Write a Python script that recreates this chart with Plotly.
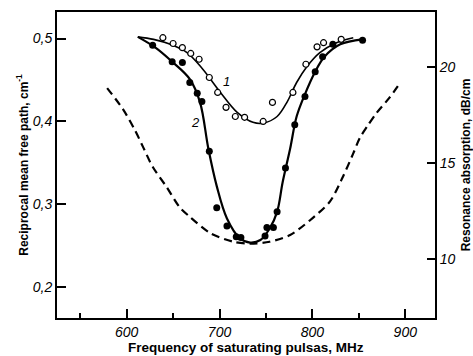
import plotly.graph_objects as go

# Curve 1 (open circles) – measured points
c1_pts_f = [639, 650, 660, 669, 678, 689, 698, 707, 717, 727, 747, 757, 779, 793, 805, 812, 831]
c1_pts_v = [0.501, 0.494, 0.489, 0.482, 0.475, 0.453, 0.435, 0.417, 0.406, 0.405, 0.400, 0.423, 0.435, 0.469, 0.490, 0.495, 0.499]
# Curve 1 fitted line
c1_line_f = [612, 629, 647, 665, 682, 701, 719, 736, 747, 762, 773, 783, 794, 808, 826, 844]
c1_line_v = [0.502, 0.499, 0.493, 0.483, 0.463, 0.435, 0.411, 0.399, 0.398, 0.406, 0.424, 0.447, 0.466, 0.483, 0.495, 0.501]

# Curve 2 (filled circles) – measured points
c2_pts_f = [628, 649, 660, 668, 676, 681, 689, 697, 708, 718, 723, 749, 751, 758, 762, 771, 781, 792, 803, 811, 822, 854]
c2_pts_v = [0.492, 0.472, 0.471, 0.447, 0.434, 0.424, 0.364, 0.296, 0.274, 0.261, 0.260, 0.262, 0.272, 0.272, 0.291, 0.344, 0.396, 0.430, 0.460, 0.478, 0.493, 0.498]
# Curve 2 fitted line
c2_line_f = [612, 631, 649, 668, 679, 688, 697, 708, 722, 733, 744, 754, 762, 768, 776, 783, 792, 803, 813, 830, 854]
c2_line_v = [0.502, 0.489, 0.472, 0.451, 0.423, 0.367, 0.322, 0.283, 0.259, 0.254, 0.257, 0.271, 0.291, 0.327, 0.367, 0.406, 0.433, 0.460, 0.478, 0.493, 0.499]

# Dashed curve – resonance absorption (dB/cm)
abs_f = [579, 596, 609, 618, 628, 643, 657, 668, 690, 715, 733, 754, 776, 797, 819, 833, 844, 851, 859, 869, 883, 892]
abs_db = [18.9, 17.8, 16.7, 15.8, 14.8, 13.75, 12.7, 12.2, 11.35, 10.9, 10.8, 10.9, 11.25, 12.0, 13.0, 14.3, 15.5, 16.3, 16.9, 17.6, 18.4, 19.0]

x_ticks = [600, 700, 800, 900]
y_ticks = [0.2, 0.3, 0.4, 0.5]
y_ticktext = ["0,2", "0,3", "0,4", "0,5"]
y2_ticks = [10, 15, 20]

curve_labels = ["1", "2"]
label_f = [707, 674]
label_v = [0.448, 0.399]

x_title = "Frequency of saturating pulsas, MHz"

fig = go.Figure()
fig.add_trace(go.Scatter(x=abs_f, y=abs_db, mode="lines", yaxis="y2",
                         line=dict(color="black", width=2.2, dash="8px,5px", shape="spline", smoothing=0.8),
                         showlegend=False))
fig.add_trace(go.Scatter(x=c1_line_f, y=c1_line_v, mode="lines",
                         line=dict(color="black", width=1.6, shape="spline"), showlegend=False))
fig.add_trace(go.Scatter(x=c2_line_f, y=c2_line_v, mode="lines",
                         line=dict(color="black", width=2.2, shape="spline"), showlegend=False))
fig.add_trace(go.Scatter(x=c1_pts_f, y=c1_pts_v, mode="markers",
                         marker=dict(size=6, color="white", line=dict(color="black", width=1.2)),
                         showlegend=False))
fig.add_trace(go.Scatter(x=c2_pts_f, y=c2_pts_v, mode="markers",
                         marker=dict(size=7, color="black"), showlegend=False))

for t, f, v in zip(curve_labels, label_f, label_v):
    fig.add_annotation(x=f, y=v, text=t, showarrow=False,
                       font=dict(family="Liberation Sans", size=13, color="black", style="italic"))

fig.add_annotation(x=0.5, y=0, xref="paper", yref="paper", yshift=-29, yanchor="middle",
                   text=x_title, showarrow=False,
                   font=dict(family="Liberation Sans", size=13.5, color="black", weight="bold"))

tickfont = dict(family="Liberation Sans", size=14, color="black", style="italic")
fig.update_layout(
    width=473, height=356,
    margin=dict(l=57, r=38, t=12, b=38),
    paper_bgcolor="white", plot_bgcolor="white",
    xaxis=dict(range=[525, 932], tickvals=x_ticks, ticks="inside", ticklen=9, tickwidth=1.5,
               tickcolor="black", showline=True, linewidth=2, linecolor="black", mirror=True,
               showgrid=False, zeroline=False, tickfont=tickfont, automargin=False,
               minor=dict(dtick=50, tick0=550, ticks="inside", ticklen=5, tickwidth=1.5, tickcolor="black", showgrid=False)),
    yaxis=dict(range=[0.163, 0.532], tickvals=y_ticks, ticktext=y_ticktext, ticks="inside", ticklen=9,
               tickwidth=1.5, tickcolor="black", showline=True, linewidth=2, linecolor="black",
               showgrid=False, zeroline=False, tickfont=tickfont, automargin=False,
               title=dict(text="Reciprocal mean free path, cm<sup>-1</sup>", standoff=2,
                          font=dict(family="Liberation Sans", size=12, color="black", weight="bold"))),
    yaxis2=dict(range=[6.93, 22.86], tickvals=y2_ticks, overlaying="y", side="right", ticks="inside",
                ticklen=8, tickwidth=1.5, tickcolor="black", showline=True, linewidth=2, linecolor="black",
                showgrid=False, zeroline=False, tickfont=tickfont, automargin=False,
                title=dict(text="Resonance absorption, dB/cm", standoff=10,
                           font=dict(family="Liberation Sans", size=12, color="black", weight="bold"))),
)
fig.write_html("out.html")
